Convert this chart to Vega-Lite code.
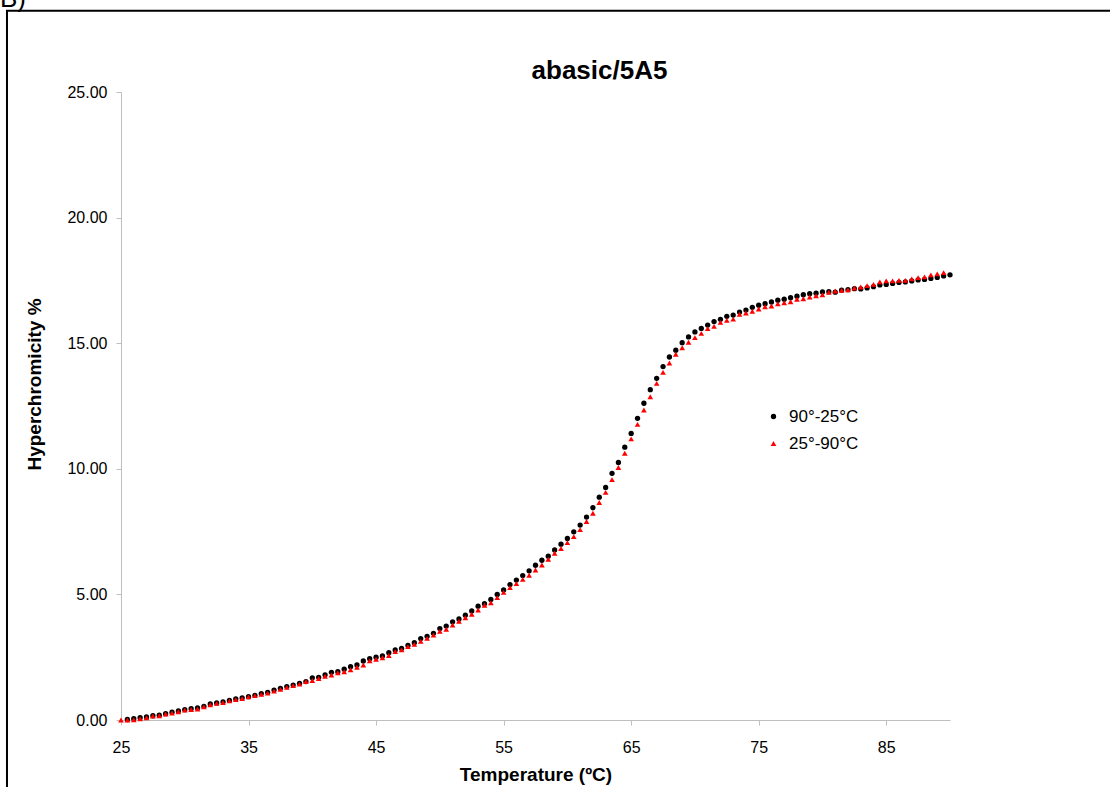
{
  "$schema": "https://vega.github.io/schema/vega-lite/v6.json",
  "width": 829,
  "height": 628,
  "autosize": {"type": "none"},
  "padding": {"left": 121, "top": 92, "right": 160, "bottom": 67},
  "background": "white",
  "title": {"text": "abasic/5A5", "fontSize": 26, "font": "Liberation Sans", "fontWeight": "bold", "color": "black", "anchor": "middle", "frame": "group", "dx": 64, "dy": 131, "offset": 12, "baseline": "alphabetic"},
  "config": {
    "view": {"stroke": null},
    "font": "Liberation Sans",
    "axis": {"grid": false, "domainColor": "#bfbfbf", "tickColor": "#bfbfbf", "tickSize": 5, "labelColor": "black", "labelFontSize": 16, "titleColor": "black", "titleFontSize": 19, "titleFontWeight": "bold"}
  },
  "layer": [
    {
      "data": {"values": [{"frame": "box"}]},
      "mark": {"type": "rect", "fill": "white", "fillOpacity": 0, "stroke": "black", "strokeWidth": 2, "clip": false},
      "encoding": {
        "x": {"datum": 16.06, "type": "quantitative"},
        "x2": {"datum": 115},
        "y": {"datum": 28.23, "type": "quantitative"},
        "y2": {"datum": -4}
      }
    },
    {
      "data": {"values": [
        {"run":"90°-25°C","T":25.5,"H":0.02},{"run":"90°-25°C","T":26,"H":0.05},{"run":"90°-25°C","T":26.5,"H":0.09},{"run":"90°-25°C","T":27,"H":0.12},{"run":"90°-25°C","T":27.5,"H":0.17},{"run":"90°-25°C","T":28,"H":0.19},{"run":"90°-25°C","T":28.5,"H":0.25},{"run":"90°-25°C","T":29,"H":0.31},{"run":"90°-25°C","T":29.5,"H":0.36},{"run":"90°-25°C","T":30,"H":0.41},
        {"run":"90°-25°C","T":30.5,"H":0.45},{"run":"90°-25°C","T":31,"H":0.48},{"run":"90°-25°C","T":31.5,"H":0.54},{"run":"90°-25°C","T":32,"H":0.64},{"run":"90°-25°C","T":32.5,"H":0.68},{"run":"90°-25°C","T":33,"H":0.72},{"run":"90°-25°C","T":33.5,"H":0.78},{"run":"90°-25°C","T":34,"H":0.84},{"run":"90°-25°C","T":34.5,"H":0.88},{"run":"90°-25°C","T":35,"H":0.93},
        {"run":"90°-25°C","T":35.5,"H":0.98},{"run":"90°-25°C","T":36,"H":1.05},{"run":"90°-25°C","T":36.5,"H":1.10},{"run":"90°-25°C","T":37,"H":1.19},{"run":"90°-25°C","T":37.5,"H":1.26},{"run":"90°-25°C","T":38,"H":1.33},{"run":"90°-25°C","T":38.5,"H":1.39},{"run":"90°-25°C","T":39,"H":1.46},{"run":"90°-25°C","T":39.5,"H":1.53},{"run":"90°-25°C","T":40,"H":1.68},
        {"run":"90°-25°C","T":40.5,"H":1.70},{"run":"90°-25°C","T":41,"H":1.80},{"run":"90°-25°C","T":41.5,"H":1.90},{"run":"90°-25°C","T":42,"H":1.92},{"run":"90°-25°C","T":42.5,"H":2.02},{"run":"90°-25°C","T":43,"H":2.12},{"run":"90°-25°C","T":43.5,"H":2.19},{"run":"90°-25°C","T":44,"H":2.35},{"run":"90°-25°C","T":44.5,"H":2.44},{"run":"90°-25°C","T":45,"H":2.50},
        {"run":"90°-25°C","T":45.5,"H":2.55},{"run":"90°-25°C","T":46,"H":2.68},{"run":"90°-25°C","T":46.5,"H":2.79},{"run":"90°-25°C","T":47,"H":2.85},{"run":"90°-25°C","T":47.5,"H":2.97},{"run":"90°-25°C","T":48,"H":3.08},{"run":"90°-25°C","T":48.5,"H":3.24},{"run":"90°-25°C","T":49,"H":3.33},{"run":"90°-25°C","T":49.5,"H":3.45},{"run":"90°-25°C","T":50,"H":3.64},
        {"run":"90°-25°C","T":50.5,"H":3.74},{"run":"90°-25°C","T":51,"H":3.91},{"run":"90°-25°C","T":51.5,"H":4.02},{"run":"90°-25°C","T":52,"H":4.17},{"run":"90°-25°C","T":52.5,"H":4.34},{"run":"90°-25°C","T":53,"H":4.53},{"run":"90°-25°C","T":53.5,"H":4.63},{"run":"90°-25°C","T":54,"H":4.80},{"run":"90°-25°C","T":54.5,"H":5.00},{"run":"90°-25°C","T":55,"H":5.18},
        {"run":"90°-25°C","T":55.5,"H":5.39},{"run":"90°-25°C","T":56,"H":5.57},{"run":"90°-25°C","T":56.5,"H":5.75},{"run":"90°-25°C","T":57,"H":5.94},{"run":"90°-25°C","T":57.5,"H":6.16},{"run":"90°-25°C","T":58,"H":6.36},{"run":"90°-25°C","T":58.5,"H":6.52},{"run":"90°-25°C","T":59,"H":6.77},{"run":"90°-25°C","T":59.5,"H":7.00},{"run":"90°-25°C","T":60,"H":7.23},
        {"run":"90°-25°C","T":60.5,"H":7.49},{"run":"90°-25°C","T":61,"H":7.76},{"run":"90°-25°C","T":61.5,"H":8.08},{"run":"90°-25°C","T":62,"H":8.45},{"run":"90°-25°C","T":62.5,"H":8.87},{"run":"90°-25°C","T":63,"H":9.26},{"run":"90°-25°C","T":63.5,"H":9.82},{"run":"90°-25°C","T":64,"H":10.25},{"run":"90°-25°C","T":64.5,"H":10.86},{"run":"90°-25°C","T":65,"H":11.41},
        {"run":"90°-25°C","T":65.5,"H":12.01},{"run":"90°-25°C","T":66,"H":12.61},{"run":"90°-25°C","T":66.5,"H":13.15},{"run":"90°-25°C","T":67,"H":13.60},{"run":"90°-25°C","T":67.5,"H":14.07},{"run":"90°-25°C","T":68,"H":14.45},{"run":"90°-25°C","T":68.5,"H":14.72},{"run":"90°-25°C","T":69,"H":15.02},{"run":"90°-25°C","T":69.5,"H":15.25},{"run":"90°-25°C","T":70,"H":15.45},
        {"run":"90°-25°C","T":70.5,"H":15.59},{"run":"90°-25°C","T":71,"H":15.72},{"run":"90°-25°C","T":71.5,"H":15.86},{"run":"90°-25°C","T":72,"H":15.95},{"run":"90°-25°C","T":72.5,"H":16.07},{"run":"90°-25°C","T":73,"H":16.12},{"run":"90°-25°C","T":73.5,"H":16.24},{"run":"90°-25°C","T":74,"H":16.32},{"run":"90°-25°C","T":74.5,"H":16.43},{"run":"90°-25°C","T":75,"H":16.51},
        {"run":"90°-25°C","T":75.5,"H":16.57},{"run":"90°-25°C","T":76,"H":16.64},{"run":"90°-25°C","T":76.5,"H":16.71},{"run":"90°-25°C","T":77,"H":16.75},{"run":"90°-25°C","T":77.5,"H":16.81},{"run":"90°-25°C","T":78,"H":16.87},{"run":"90°-25°C","T":78.5,"H":16.93},{"run":"90°-25°C","T":79,"H":16.97},{"run":"90°-25°C","T":79.5,"H":16.99},{"run":"90°-25°C","T":80,"H":17.04},
        {"run":"90°-25°C","T":80.5,"H":17.05},{"run":"90°-25°C","T":81,"H":17.03},{"run":"90°-25°C","T":81.5,"H":17.11},{"run":"90°-25°C","T":82,"H":17.13},{"run":"90°-25°C","T":82.5,"H":17.17},{"run":"90°-25°C","T":83,"H":17.16},{"run":"90°-25°C","T":83.5,"H":17.20},{"run":"90°-25°C","T":84,"H":17.25},{"run":"90°-25°C","T":84.5,"H":17.32},{"run":"90°-25°C","T":85,"H":17.34},
        {"run":"90°-25°C","T":85.5,"H":17.38},{"run":"90°-25°C","T":86,"H":17.42},{"run":"90°-25°C","T":86.5,"H":17.44},{"run":"90°-25°C","T":87,"H":17.48},{"run":"90°-25°C","T":87.5,"H":17.52},{"run":"90°-25°C","T":88,"H":17.54},{"run":"90°-25°C","T":88.5,"H":17.58},{"run":"90°-25°C","T":89,"H":17.62},{"run":"90°-25°C","T":89.5,"H":17.68},{"run":"90°-25°C","T":90,"H":17.72},
        {"run":"25°-90°C","T":25,"H":0.00},{"run":"25°-90°C","T":25.5,"H":0.00},{"run":"25°-90°C","T":26,"H":0.01},{"run":"25°-90°C","T":26.5,"H":0.05},{"run":"25°-90°C","T":27,"H":0.09},{"run":"25°-90°C","T":27.5,"H":0.16},{"run":"25°-90°C","T":28,"H":0.17},{"run":"25°-90°C","T":28.5,"H":0.24},{"run":"25°-90°C","T":29,"H":0.28},{"run":"25°-90°C","T":29.5,"H":0.33},
        {"run":"25°-90°C","T":30,"H":0.40},{"run":"25°-90°C","T":30.5,"H":0.42},{"run":"25°-90°C","T":31,"H":0.44},{"run":"25°-90°C","T":31.5,"H":0.53},{"run":"25°-90°C","T":32,"H":0.61},{"run":"25°-90°C","T":32.5,"H":0.66},{"run":"25°-90°C","T":33,"H":0.69},{"run":"25°-90°C","T":33.5,"H":0.76},{"run":"25°-90°C","T":34,"H":0.81},{"run":"25°-90°C","T":34.5,"H":0.85},
        {"run":"25°-90°C","T":35,"H":0.92},{"run":"25°-90°C","T":35.5,"H":0.97},{"run":"25°-90°C","T":36,"H":1.02},{"run":"25°-90°C","T":36.5,"H":1.07},{"run":"25°-90°C","T":37,"H":1.15},{"run":"25°-90°C","T":37.5,"H":1.22},{"run":"25°-90°C","T":38,"H":1.30},{"run":"25°-90°C","T":38.5,"H":1.37},{"run":"25°-90°C","T":39,"H":1.43},{"run":"25°-90°C","T":39.5,"H":1.53},
        {"run":"25°-90°C","T":40,"H":1.57},{"run":"25°-90°C","T":40.5,"H":1.65},{"run":"25°-90°C","T":41,"H":1.74},{"run":"25°-90°C","T":41.5,"H":1.79},{"run":"25°-90°C","T":42,"H":1.88},{"run":"25°-90°C","T":42.5,"H":1.92},{"run":"25°-90°C","T":43,"H":2.00},{"run":"25°-90°C","T":43.5,"H":2.10},{"run":"25°-90°C","T":44,"H":2.19},{"run":"25°-90°C","T":44.5,"H":2.36},
        {"run":"25°-90°C","T":45,"H":2.42},{"run":"25°-90°C","T":45.5,"H":2.48},{"run":"25°-90°C","T":46,"H":2.57},{"run":"25°-90°C","T":46.5,"H":2.72},{"run":"25°-90°C","T":47,"H":2.79},{"run":"25°-90°C","T":47.5,"H":2.92},{"run":"25°-90°C","T":48,"H":3.01},{"run":"25°-90°C","T":48.5,"H":3.13},{"run":"25°-90°C","T":49,"H":3.25},{"run":"25°-90°C","T":49.5,"H":3.38},
        {"run":"25°-90°C","T":50,"H":3.53},{"run":"25°-90°C","T":50.5,"H":3.61},{"run":"25°-90°C","T":51,"H":3.78},{"run":"25°-90°C","T":51.5,"H":3.93},{"run":"25°-90°C","T":52,"H":4.07},{"run":"25°-90°C","T":52.5,"H":4.21},{"run":"25°-90°C","T":53,"H":4.38},{"run":"25°-90°C","T":53.5,"H":4.57},{"run":"25°-90°C","T":54,"H":4.67},{"run":"25°-90°C","T":54.5,"H":4.87},
        {"run":"25°-90°C","T":55,"H":5.08},{"run":"25°-90°C","T":55.5,"H":5.27},{"run":"25°-90°C","T":56,"H":5.43},{"run":"25°-90°C","T":56.5,"H":5.60},{"run":"25°-90°C","T":57,"H":5.76},{"run":"25°-90°C","T":57.5,"H":5.97},{"run":"25°-90°C","T":58,"H":6.17},{"run":"25°-90°C","T":58.5,"H":6.40},{"run":"25°-90°C","T":59,"H":6.64},{"run":"25°-90°C","T":59.5,"H":6.83},
        {"run":"25°-90°C","T":60,"H":7.06},{"run":"25°-90°C","T":60.5,"H":7.30},{"run":"25°-90°C","T":61,"H":7.58},{"run":"25°-90°C","T":61.5,"H":7.90},{"run":"25°-90°C","T":62,"H":8.23},{"run":"25°-90°C","T":62.5,"H":8.66},{"run":"25°-90°C","T":63,"H":9.06},{"run":"25°-90°C","T":63.5,"H":9.57},{"run":"25°-90°C","T":64,"H":10.05},{"run":"25°-90°C","T":64.5,"H":10.62},
        {"run":"25°-90°C","T":65,"H":11.19},{"run":"25°-90°C","T":65.5,"H":11.77},{"run":"25°-90°C","T":66,"H":12.34},{"run":"25°-90°C","T":66.5,"H":12.87},{"run":"25°-90°C","T":67,"H":13.40},{"run":"25°-90°C","T":67.5,"H":13.84},{"run":"25°-90°C","T":68,"H":14.21},{"run":"25°-90°C","T":68.5,"H":14.56},{"run":"25°-90°C","T":69,"H":14.82},{"run":"25°-90°C","T":69.5,"H":15.04},
        {"run":"25°-90°C","T":70,"H":15.22},{"run":"25°-90°C","T":70.5,"H":15.39},{"run":"25°-90°C","T":71,"H":15.58},{"run":"25°-90°C","T":71.5,"H":15.67},{"run":"25°-90°C","T":72,"H":15.83},{"run":"25°-90°C","T":72.5,"H":15.91},{"run":"25°-90°C","T":73,"H":15.96},{"run":"25°-90°C","T":73.5,"H":16.15},{"run":"25°-90°C","T":74,"H":16.20},{"run":"25°-90°C","T":74.5,"H":16.27},
        {"run":"25°-90°C","T":75,"H":16.36},{"run":"25°-90°C","T":75.5,"H":16.45},{"run":"25°-90°C","T":76,"H":16.48},{"run":"25°-90°C","T":76.5,"H":16.57},{"run":"25°-90°C","T":77,"H":16.61},{"run":"25°-90°C","T":77.5,"H":16.65},{"run":"25°-90°C","T":78,"H":16.75},{"run":"25°-90°C","T":78.5,"H":16.77},{"run":"25°-90°C","T":79,"H":16.84},{"run":"25°-90°C","T":79.5,"H":16.89},
        {"run":"25°-90°C","T":80,"H":16.93},{"run":"25°-90°C","T":80.5,"H":17.03},{"run":"25°-90°C","T":81,"H":17.08},{"run":"25°-90°C","T":81.5,"H":17.11},{"run":"25°-90°C","T":82,"H":17.13},{"run":"25°-90°C","T":82.5,"H":17.20},{"run":"25°-90°C","T":83,"H":17.24},{"run":"25°-90°C","T":83.5,"H":17.29},{"run":"25°-90°C","T":84,"H":17.34},{"run":"25°-90°C","T":84.5,"H":17.44},
        {"run":"25°-90°C","T":85,"H":17.48},{"run":"25°-90°C","T":85.5,"H":17.48},{"run":"25°-90°C","T":86,"H":17.50},{"run":"25°-90°C","T":86.5,"H":17.50},{"run":"25°-90°C","T":87,"H":17.56},{"run":"25°-90°C","T":87.5,"H":17.61},{"run":"25°-90°C","T":88,"H":17.64},{"run":"25°-90°C","T":88.5,"H":17.72},{"run":"25°-90°C","T":89,"H":17.76},{"run":"25°-90°C","T":89.5,"H":17.81}
      ]},
      "mark": {"type": "point", "filled": true, "opacity": 1, "clip": false},
      "encoding": {
        "x": {"field": "T", "type": "quantitative", "scale": {"domain": [25, 90], "nice": false, "zero": false},
              "axis": {"title": "Temperature (ºC)", "values": [25, 35, 45, 55, 65, 75, 85], "labelFlush": false, "labelPadding": 14, "titleY": 60, "titleBaseline": "alphabetic"}},
        "y": {"field": "H", "type": "quantitative", "scale": {"domain": [0, 25], "nice": false},
              "axis": {"title": "Hyperchromicity %", "values": [0, 5, 10, 15, 20, 25], "format": ".2f", "labelFlush": false, "labelPadding": 9, "titleX": -81, "titleY": 292, "titleAngle": 270, "titleBaseline": "alphabetic", "titleAlign": "center"}},
        "color": {"field": "run", "type": "nominal", "scale": {"domain": ["90°-25°C", "25°-90°C"], "range": ["#000000", "#ff0000"]},
                  "legend": {"title": null, "orient": "none", "legendX": 644, "legendY": 316, "labelFontSize": 17, "labelColor": "black", "symbolSize": 20, "labelOffset": 7, "rowPadding": 9, "padding": 0}},
        "shape": {"field": "run", "type": "nominal", "scale": {"domain": ["90°-25°C", "25°-90°C"], "range": ["circle", "triangle-up"]}},
        "size": {"field": "run", "type": "nominal", "scale": {"domain": ["90°-25°C", "25°-90°C"], "range": [28, 32]}, "legend": null}
      }
    },
    {
      "data": {"values": [{"label": "B)"}]},
      "mark": {"type": "text", "align": "left", "baseline": "alphabetic", "fontSize": 26, "color": "black", "clip": false},
      "encoding": {
        "text": {"field": "label"},
        "x": {"datum": 15.51, "type": "quantitative"},
        "y": {"datum": 28.38, "type": "quantitative"}
      }
    }
  ]
}
